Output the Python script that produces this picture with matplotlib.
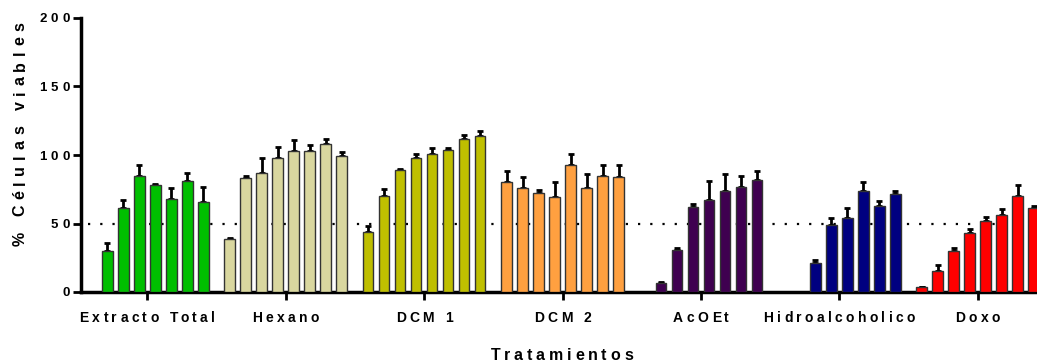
import numpy as np
import matplotlib.pyplot as plt
from matplotlib.transforms import IdentityTransform

plt.rcParams['font.family'] = ['Liberation Sans', 'DejaVu Sans']
plt.rcParams['font.weight'] = 'bold'

# %% data (8 slots per group, nan = no bar)
groups = ['Extracto Total', 'Hexano', 'DCM 1', 'DCM 2', 'AcOEt', 'Hidroalcoholico', 'Doxo']
nan = np.nan
extracto = [nan, 30, 61, 85, 78, 68, 81, 66]
extracto_err = [0, 6, 6, 8, 1, 8, 6, 11]
hexano = [39, 83, 87, 98, 103, 103, 108, 99]
hexano_err = [0.5, 1.5, 11, 8, 8, 4.5, 3.5, 3.5]
dcm1 = [44, 70, 89, 98, 101, 104, 112, 114]
dcm1_err = [4.5, 5, 1, 2.5, 4, 1.3, 2.5, 3.5]
dcm2 = [80, 76, 72, 69, 93, 76, 85, 84]
dcm2_err = [8, 8, 2.5, 11, 8, 10, 8, 9]
acoet = [nan, 6.5, 31, 62, 67.5, 74, 77, 81.5]
acoet_err = [0, 0.8, 1, 2, 13.5, 12, 8, 6.5]
hidro = [nan, nan, 21, 49, 54, 74, 62.5, 71.5]
hidro_err = [0, 0, 2, 5, 7, 6.5, 4, 2]
doxo = [3.5, 15, 30, 43, 51.5, 56, 70, 61]
doxo_err = [0, 4.5, 2, 3, 3, 4.5, 8, 1.5]
yticks = [0, 50, 100, 150, 200]

values = [extracto, hexano, dcm1, dcm2, acoet, hidro, doxo]
errors = [extracto_err, hexano_err, dcm1_err, dcm2_err, acoet_err, hidro_err, doxo_err]
colors = ['#00BF00', '#D9D79F', '#BFBF00', '#FFA040', '#3F0050', '#000080', '#FF0000']

# %% plot
fig = plt.figure(figsize=(10.37, 3.62), dpi=100)
ax = fig.add_axes([81/1037, 70/362, 1 - 81/1037, 274/362])
rend = fig.canvas.get_renderer()


def text_w(s, size):
    # width of s measured with a trailing bar so trailing spaces count
    t = fig.text(0, 0, s + '|', fontsize=size, fontweight='bold', transform=IdentityTransform())
    w = t.get_window_extent(rend).width
    t.remove()
    return w


def tracked(s, x, y, size, track, rot=0, align='center'):
    # GraphPad-style wide letter spacing: one text per char, x/y in pixels on baseline
    bar = text_w('', size)
    pre = [text_w(s[:k], size) - bar for k in range(len(s) + 1)]
    total = pre[-1] + track * (len(s) - 1)
    start = -total / 2 if align == 'center' else -total
    c, sn = np.cos(np.deg2rad(rot)), np.sin(np.deg2rad(rot))
    for k, ch in enumerate(s):
        if ch == ' ':
            continue
        d = start + pre[k] + k * track + (pre[k + 1] - pre[k]) / 2
        fig.text(x + d * c, y + d * sn, ch, fontsize=size, fontweight='bold',
                 ha='center', va='baseline', rotation=rot, rotation_mode='anchor',
                 transform=IdentityTransform())


group_step = 8.65
centers = []
for i, (vals, errs, col) in enumerate(zip(values, errors, colors)):
    x = i * group_step + np.arange(8)
    centers.append(i * group_step + 3.5)
    vals = np.array(vals, dtype=float)
    errs = np.array(errs, dtype=float)
    ok = ~np.isnan(vals)
    ax.errorbar(x[ok], vals[ok], yerr=[np.zeros(ok.sum()), errs[ok]], fmt='none',
                ecolor='black', elinewidth=2, capsize=2.5, capthick=2, zorder=2)
    ax.bar(x[ok], vals[ok], width=0.67, color=col, edgecolor='#333333', linewidth=1, zorder=3)

ax.axhline(50, xmin=0.007, color='black', linestyle=(0, (1, 4.5)), linewidth=1.6, zorder=1)

ax.set_xlim(-0.64, 59.1)
ax.set_ylim(0, 200)
ax.set_yticks(yticks)
ax.set_xticks(centers)
ax.set_xticklabels([])
ax.set_yticklabels([])
ax.tick_params(axis='both', width=2, length=6)

for s in ['top', 'right']:
    ax.spines[s].set_visible(False)
for s in ['left', 'bottom']:
    ax.spines[s].set_linewidth(2.5)

# labels drawn with letter spacing
for name, cx in zip(groups, centers):
    px = ax.transData.transform((cx, 0))[0]
    tracked(name, px, 40.5, 10, 3.4)
for v in yticks:
    py = ax.transData.transform((0, v))[1]
    tracked(str(v), 69.5, py - 4.5, 9.5, 4, align='right')
tracked('% Células viables', 24.5, 228, 11.5, 5.6, rot=90)
tracked('Tratamientos', 562, 2.5, 11.5, 3.8)

plt.savefig('out.png', dpi=100)
